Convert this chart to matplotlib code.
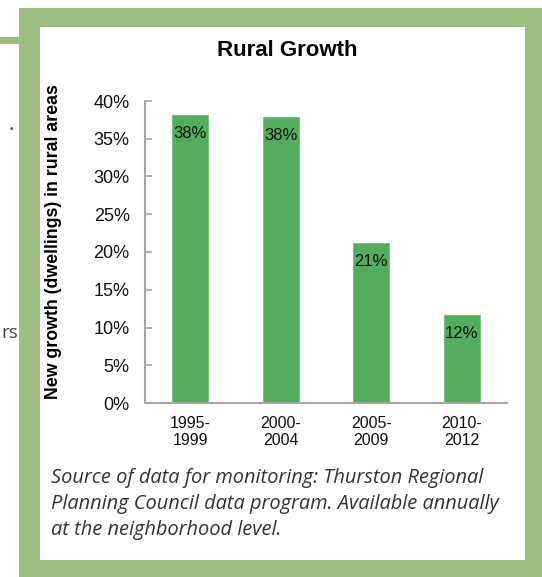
import matplotlib
matplotlib.use("Agg")
import matplotlib.pyplot as plt
from matplotlib.patches import Rectangle

categories = ["1995-\n1999", "2000-\n2004", "2005-\n2009", "2010-\n2012"]
values = [38.2, 37.9, 21.2, 11.7]
labels = ["38%", "38%", "21%", "12%"]
yticks = [0, 5, 10, 15, 20, 25, 30, 35, 40]
title = "Rural Growth"
ylabel = "New growth (dwellings) in rural areas"
caption = ["Source of data for monitoring: Thurston Regional",
           "Planning Council data program. Available annually",
           "at the neighborhood level."]

W, H = 542, 577
DPI = 100
fig = plt.figure(figsize=(W / DPI, H / DPI), dpi=DPI)
fig.patch.set_facecolor("white")

FRAME = "#9bbf82"
BAR = "#52ae5d"
AXC = "#a6a6a6"

def px(x, y):
    return x / W, 1 - y / H

# frame
fig.patches.append(Rectangle(px(19, 577), (542 - 19) / W, (577 - 8) / H,
                             transform=fig.transFigure, facecolor=FRAME, edgecolor="none", zorder=0))
fig.patches.append(Rectangle(px(40, 560), (525 - 40) / W, (560 - 27) / H,
                             transform=fig.transFigure, facecolor="white", edgecolor="none", zorder=1))
fig.patches.append(Rectangle(px(0, 44), 19 / W, 7 / H,
                             transform=fig.transFigure, facecolor=FRAME, edgecolor="none", zorder=0))

# fragments of neighbouring text at left edge
fig.text(*px(14, 124), ".", ha="right", va="center", fontsize=15, color="#444444", family="Open Sans")
fig.text(*px(1, 333), "rs", ha="left", va="center", fontsize=13.5, color="#444444",
         family="Open Sans")

l, b = px(145, 403)
r, t = px(507, 101)
ax = fig.add_axes([l, b, r - l, t - b])
ax.set_zorder(3)
ax.patch.set_alpha(0)

x = list(range(len(categories)))
ax.bar(x, values, width=0.4, color=BAR, edgecolor="#6fbf78", linewidth=0.6)
ax.set_xlim(-0.5, 3.5)
ax.set_ylim(0, 40)

for xi, v, lab in zip(x, values, labels):
    ax.annotate(lab, (xi, v), xytext=(0, -19 * 72 / DPI), textcoords="offset points",
                ha="center", va="center", fontsize=12, family="Liberation Sans", color="#111111")

ax.set_yticks(yticks)
ax.set_yticklabels([f"{v}%" for v in yticks], family="Liberation Sans", fontsize=13, color="#111111")
ax.set_xticks(x)
ax.set_xticklabels(categories, family="Liberation Sans", fontsize=11.5, color="#111111", linespacing=1.2)
ax.tick_params(axis="y", direction="in", length=5, width=1.2, color=AXC, pad=11)
ax.tick_params(axis="x", length=0, pad=9)
for s in ["top", "right"]:
    ax.spines[s].set_visible(False)
for s in ["left", "bottom"]:
    ax.spines[s].set_color(AXC)
    ax.spines[s].set_linewidth(1.5)

fig.text(*px(287, 50), title, ha="center", va="center", fontsize=16, fontweight="bold",
         family="Liberation Sans", color="#000000", zorder=5)
fig.text(*px(54, 242), ylabel, ha="center", va="center", rotation=90, fontsize=12.8,
         fontweight="bold", family="Liberation Sans", color="#000000", zorder=5)

for i, line in enumerate(caption):
    fig.text(*px(51, 478 + i * 26), line, ha="left", va="center", fontsize=14.4,
             style="italic", family="Open Sans", color="#333333", zorder=5)

fig.savefig("out.png", dpi=DPI)
